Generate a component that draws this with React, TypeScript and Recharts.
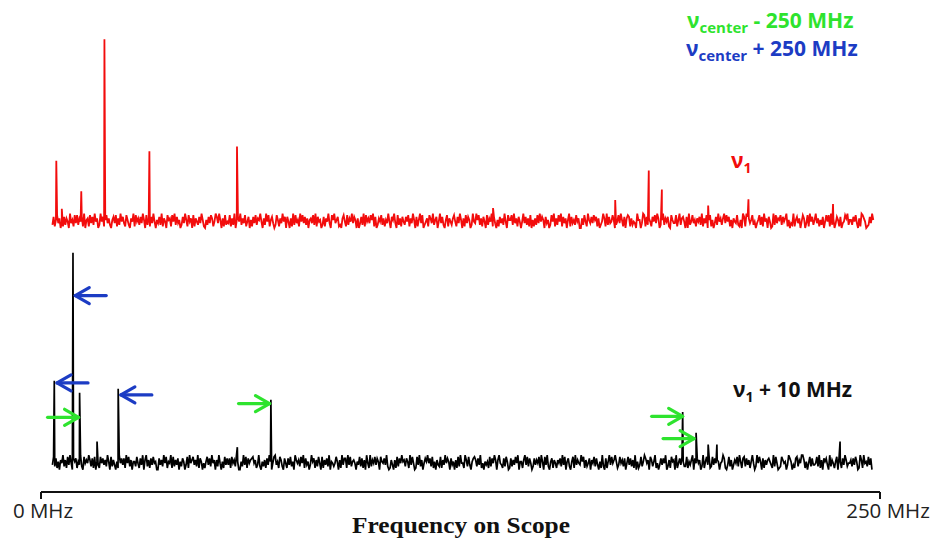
import React from 'react';
import { LineChart, Line, XAxis, YAxis, ReferenceDot } from 'recharts';

// Both scope traces share one 0–250 MHz sweep; amplitudes are in a.u. above each trace's floor
const SWEEP_START = 3.4;
const RED_END = 248.0;
const BLACK_END = 247.6;

// noise floor, one digit per sample across the sweep
const redNoise =
  '2715836041726409351838264719056183729460294715836205738162947318520649' +
  '1846273950826173940537291640856184927350273951846081642739510527386149' +
  '7395061824381629057492638147051738265940629481573028516394707406192835' +
  '1948372605638291745027164930859357120684182649375060372918463859170264' +
  '8261539407593082617427481639507159380246186392570493720581642684173950' +
  '61837502943958261740826491730517362940855829361740' +
  '4937261805162839475073502849162849173605917352846006284195373857160249' +
  '6192734850248395170687162430955039817264174839602592647108533815926740' +
  '7092483516472916380581503729462693847150643821509719763582403582719460' +
  '7401928365827469150329157360486038194725936152704848192603751703486925' +
  '52748306198640127395';

const blackNoise =
  '3827150649261839407571539208464962718053184736295082630519473719482605' +
  '5284173906926173845007362948154918263705275038194683629175041583729460' +
  '6294051837371846295005293817467846139205261739504893518620741738250964' +
  '6284917350395716284081637290542485061937719382564053827160941926483750' +
  '8547392016306182749562751938401839260475947281506328163947507350618294' +
  '41962830578627391405351827496069431728501726384905' +
  '5169382740273648195083920571641647293805720581936439581624706482730519' +
  '2071593846951384627048372619051382597460862591403737490261856091473852' +
  '2815369074746029158391283746504597103826036482951782736159402948507163' +
  '6753192840128645039750317826499615048273348291607573092641580851739624' +
  '46273850196194528370';

// spectral lines on the upper (ν1) trace
const redPeaks = [
  { f: 4.56, v: 42 },
  { f: 6.2, v: 12 },
  { f: 12.0, v: 23 },
  { f: 18.9, v: 118 },
  { f: 32.3, v: 48 },
  { f: 58.4, v: 51 },
  { f: 134.7, v: 12.5 },
  { f: 171.1, v: 17.5 },
  { f: 181.1, v: 36 },
  { f: 185.0, v: 24 },
  { f: 198.8, v: 14 },
  { f: 210.8, v: 18 },
  { f: 236.0, v: 15 },
];

// spectral lines on the lower (ν1 + 10 MHz) trace
const blackPeaks = [
  { f: 3.96, v: 55.6 },
  { f: 9.53, v: 135.6 },
  { f: 11.5, v: 48 },
  { f: 16.7, v: 17.5 },
  { f: 23.0, v: 50.6 },
  { f: 58.5, v: 14 },
  { f: 68.5, v: 43.7 },
  { f: 191.2, v: 36 },
  { f: 195.2, v: 23 },
  { f: 198.8, v: 15.6 },
  { f: 201.4, v: 15.6 },
  { f: 238.1, v: 17.5 },
];

// arrow tips marking lines on the lower trace
const blueArrows = [
  { f: 10.2, v: 108.75 },
  { f: 4.77, v: 54.2 },
  { f: 23.8, v: 46.7 },
];
const greenArrows = [
  { f: 11.2, v: 32.7 },
  { f: 68.1, v: 41.25 },
  { f: 191.2, v: 33.3 },
  { f: 194.6, v: 19.4 },
];

const xTicks = [0, 250];

type Pt = { f: number; v: number };

function buildTrace(noise: string, end: number, peaks: Pt[]): Pt[] {
  const levels = noise.split('').map(Number);
  const step = (end - SWEEP_START) / (levels.length - 1);
  const pts = levels.map((v, i) => ({ f: SWEEP_START + i * step, v }));
  return [...pts, ...peaks].sort((a, b) => a.f - b.f);
}

const redTrace = buildTrace(redNoise, RED_END, redPeaks);
const blackTrace = buildTrace(blackNoise, BLACK_END, blackPeaks);

const RED = '#f20c0c';
const BLUE = '#1c3cc4';
const GREEN = '#2ee32e';
const FONT = '"Open Sans", sans-serif';

// dir 1 = points right (tail on the left), -1 = points left
function Arrow({ cx, cy, dir, color }: { cx: number; cy: number; dir: number; color: string }) {
  return (
    <g stroke={color} strokeWidth={3.2} strokeLinecap="round" strokeLinejoin="round" fill="none">
      <line x1={cx} y1={cy} x2={cx - dir * 31} y2={cy} />
      <polyline points={`${cx - dir * 14},${cy - 8} ${cx},${cy} ${cx - dir * 14},${cy + 8}`} />
    </g>
  );
}

function FreqTick(props: any) {
  const { x, y, payload } = props;
  const shift = payload.value === 0 ? 2 : 8;
  return (
    <text x={x + shift} y={y + 19} textAnchor="middle" fontFamily={FONT} fontSize={20.5} fill="#222">
      {payload.value} MHz
    </text>
  );
}

export default function App() {
  return (
    <div style={{ position: 'absolute', left: 0, top: 0, width: 934, height: 542, background: '#fff' }}>
      <LineChart width={934} height={542} margin={{ top: 20, right: 54, left: 41, bottom: 20 }}>
        <XAxis
          dataKey="f"
          type="number"
          domain={[0, 250]}
          ticks={xTicks}
          interval={0}
          height={30}
          axisLine={{ stroke: '#111', strokeWidth: 2 }}
          tickLine={{ stroke: '#111', strokeWidth: 2 }}
          tickSize={7}
          tickMargin={0}
          tick={<FreqTick />}
        />
        <YAxis yAxisId="red" hide domain={[-165, 130]} />
        <YAxis yAxisId="black" hide domain={[-14, 281]} />
        <Line
          yAxisId="red"
          data={redTrace}
          dataKey="v"
          type="linear"
          stroke={RED}
          strokeWidth={1.8}
          dot={false}
          isAnimationActive={false}
        />
        <Line
          yAxisId="black"
          data={blackTrace}
          dataKey="v"
          type="linear"
          stroke="#000"
          strokeWidth={1.7}
          dot={false}
          isAnimationActive={false}
        />
        {blueArrows.map((a, i) => (
          <ReferenceDot
            key={`b${i}`}
            yAxisId="black"
            x={a.f}
            y={a.v}
            r={0}
            ifOverflow="visible"
            shape={(p: any) => <Arrow cx={p.cx} cy={p.cy} dir={-1} color={BLUE} />}
          />
        ))}
        {greenArrows.map((a, i) => (
          <ReferenceDot
            key={`g${i}`}
            yAxisId="black"
            x={a.f}
            y={a.v}
            r={0}
            ifOverflow="visible"
            shape={(p: any) => <Arrow cx={p.cx} cy={p.cy} dir={1} color={GREEN} />}
          />
        ))}
      </LineChart>

      {/* trace labels and axis title */}
      <svg
        width={934}
        height={542}
        style={{ position: 'absolute', left: 0, top: 0, pointerEvents: 'none' }}
      >
        <text x={687} y={28} fontFamily={FONT} fontWeight={700} fontSize={21} fill={GREEN}>
          ν<tspan dy={5} fontSize={15}>center</tspan>
          <tspan dy={-5}> - 250 MHz</tspan>
        </text>
        <text x={686} y={56} fontFamily={FONT} fontWeight={700} fontSize={21} fill={BLUE}>
          ν<tspan dy={5} fontSize={15}>center</tspan>
          <tspan dy={-5}> + 250 MHz</tspan>
        </text>
        <text x={731} y={168} fontFamily={FONT} fontWeight={700} fontSize={21} fill={RED}>
          ν<tspan dy={5} fontSize={14}>1</tspan>
        </text>
        <text x={733} y={397} fontFamily={FONT} fontWeight={700} fontSize={21} fill="#111">
          ν<tspan dy={5} fontSize={14}>1</tspan>
          <tspan dy={-5}> + 10 MHz</tspan>
        </text>
        <text
          x={461}
          y={533}
          textAnchor="middle"
          fontFamily='"Liberation Serif", serif'
          fontWeight={700}
          fontSize={23}
          textLength={218}
          lengthAdjust="spacingAndGlyphs"
          fill="#111"
        >
          Frequency on Scope
        </text>
      </svg>
    </div>
  );
}
